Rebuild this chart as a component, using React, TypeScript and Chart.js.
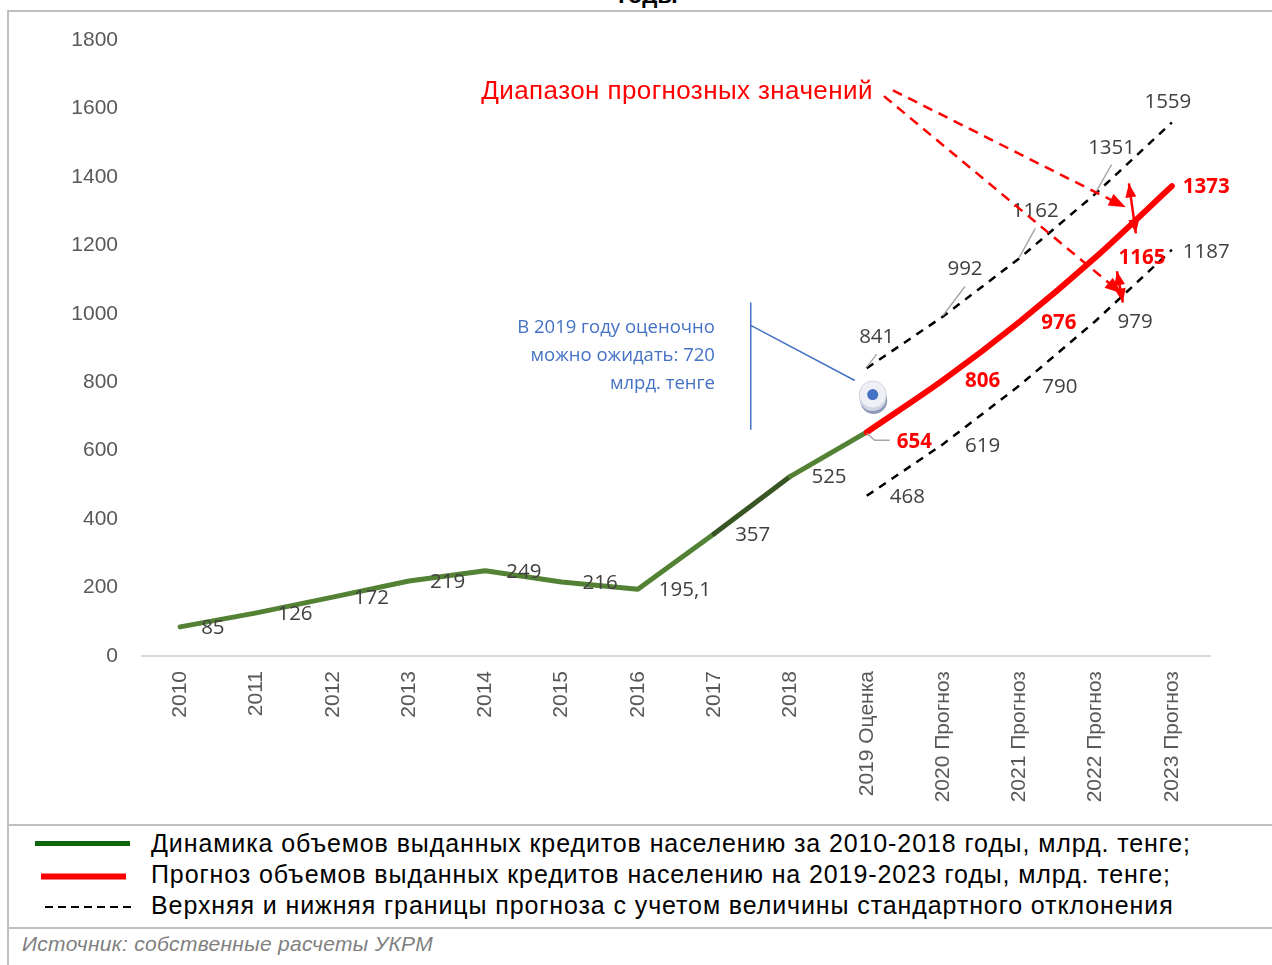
import React, { useEffect, useRef } from 'react';
import { Chart, registerables } from 'chart.js';

Chart.register(...registerables);

// ---------------- DATA ----------------
const CATEGORIES = [
  '2010', '2011', '2012', '2013', '2014', '2015', '2016', '2017', '2018',
  '2019 Оценка', '2020 Прогноз', '2021 Прогноз', '2022 Прогноз', '2023 Прогноз',
];
const ACTUAL = [85, 126, 172, 219, 249, 216, 195.1, 357, 525, 654, null, null, null, null];
const FORECAST = [null, null, null, null, null, null, null, null, null, 654, 806, 976, 1165, 1373];
const UPPER = [null, null, null, null, null, null, null, null, null, 841, 992, 1162, 1351, 1559];
const LOWER = [null, null, null, null, null, null, null, null, null, 468, 619, 790, 979, 1187];
// position of the 2019 estimate marker
const ESTIMATE = [null, null, null, null, null, null, null, null, null, 764, null, null, null, null];

const Y_MIN = 0;
const Y_MAX = 1800;
const Y_STEP = 200;

const LEGEND_ITEMS = [
  'Динамика объемов выданных кредитов населению за 2010-2018 годы, млрд. тенге;',
  'Прогноз объемов выданных кредитов населению на 2019-2023 годы, млрд. тенге;',
  'Верхняя и нижняя границы прогноза с учетом величины стандартного отклонения',
];
const SOURCE = 'Источник: собственные расчеты УКРМ';
const TITLE_TAIL = 'годы';
const CALLOUT_LINES = ['В 2019 году оценочно', 'можно ожидать: 720', 'млрд. тенге'];
const RANGE_TITLE = 'Диапазон прогнозных значений';

// ---------------- LABEL LAYOUT (styles / offsets, separate from data) ----------------
type Spec = { dx: number; dy: number; align: CanvasTextAlign; leader?: 'up' | 'elbow' } | null;
const R: Spec = { dx: 21, dy: 1, align: 'left' };
const ACTUAL_LABEL_LAYOUT: Spec[] = [R, R, R, R, R, R, R, R, R, null, null, null, null, null];
const FORECAST_LABEL_LAYOUT: Spec[] = [
  null, null, null, null, null, null, null, null, null,
  { dx: 30, dy: 10, align: 'left', leader: 'elbow' },
  { dx: 22, dy: 1, align: 'left' },
  { dx: 22, dy: 1, align: 'left' },
  { dx: 23, dy: 1, align: 'left' },
  { dx: 11, dy: 1, align: 'left' },
];
const UPPER_LABEL_LAYOUT: Spec[] = [
  null, null, null, null, null, null, null, null, null,
  { dx: 10, dy: -31, align: 'center', leader: 'up' },
  { dx: 22, dy: -47, align: 'center', leader: 'up' },
  { dx: 16, dy: -47, align: 'center', leader: 'up' },
  { dx: 16, dy: -46, align: 'center', leader: 'up' },
  { dx: -4, dy: -20, align: 'center' },
];
const LOWER_LABEL_LAYOUT: Spec[] = [
  null, null, null, null, null, null, null, null, null,
  { dx: 23, dy: 1, align: 'left' },
  { dx: 22, dy: 1.5, align: 'left' },
  { dx: 23, dy: 2, align: 'left' },
  { dx: 22, dy: 1.5, align: 'left' },
  { dx: 11, dy: 2, align: 'left' },
];

// annotation geometry in data units: [category index, value]
const ANNOT = {
  rangeTitle: { i: 9.08, v: 1648 },
  rangeArrows: [
    { from: [9.344, 1653], to: [12.396, 1311] },
    { from: [9.226, 1636], to: [12.343, 1059] },
  ],
  spanArrows: [
    { from: [12.437, 1381], to: [12.528, 1235] },
    { from: [12.28, 1124], to: [12.358, 1033] },
  ],
  calloutText: { i: 7.01, v: [960, 878, 796] },
  calloutBar: { i: 7.48, v0: 1033, v1: 661 },
  calloutConnector: { from: [7.48, 966], to: [8.844, 805] },
};

const AXIS_FONT = '"Liberation Sans", Arial, sans-serif';
const LABEL_FONT = '"Open Sans", sans-serif';
const GREY_TEXT = '#404040';
const RED = '#FF0000';
const BLUE = '#4472C4';

const fmt = (v: number | null) => (v == null ? null : String(v).replace('.', ','));

function arrowHead(ctx: CanvasRenderingContext2D, fx: number, fy: number, tx: number, ty: number, len: number, half: number) {
  const a = Math.atan2(ty - fy, tx - fx);
  ctx.beginPath();
  ctx.moveTo(tx, ty);
  ctx.lineTo(tx - len * Math.cos(a) + half * Math.sin(a), ty - len * Math.sin(a) - half * Math.cos(a));
  ctx.lineTo(tx - len * Math.cos(a) - half * Math.sin(a), ty - len * Math.sin(a) + half * Math.cos(a));
  ctx.closePath();
  ctx.fill();
}

const overlayPlugin = {
  id: 'overlay',
  afterDatasetsDraw(chart: any) {
    const ctx: CanvasRenderingContext2D = chart.ctx;
    const xs = chart.scales.x;
    const ys = chart.scales.y;
    const px = (i: number) => xs.getPixelForValue(i);
    const py = (v: number) => ys.getPixelForValue(v);

    // estimate marker
    const em = chart.getDatasetMeta(4);
    ESTIMATE.forEach((v, i) => {
      if (v == null) return;
      const p = em.data[i];
      const x = p.x + 6;
      const y = p.y;
      ctx.save();
      ctx.fillStyle = '#8E9AB8';
      ctx.beginPath(); ctx.arc(x + 1, y + 6, 13.5, 0, Math.PI * 2); ctx.fill();
      ctx.fillStyle = '#D0D6E4';
      ctx.beginPath(); ctx.arc(x, y + 3, 13.5, 0, Math.PI * 2); ctx.fill();
      ctx.fillStyle = '#EEF0F5';
      ctx.strokeStyle = '#D0D4DE';
      ctx.lineWidth = 1;
      ctx.beginPath(); ctx.arc(x, y, 13.5, 0, Math.PI * 2); ctx.fill(); ctx.stroke();
      ctx.fillStyle = BLUE;
      ctx.beginPath(); ctx.arc(x, y, 5.5, 0, Math.PI * 2); ctx.fill();
      ctx.restore();
    });

    const drawLabels = (dsIndex: number, values: (number | null)[], layout: Spec[], font: string, color: string) => {
      const meta = chart.getDatasetMeta(dsIndex);
      ctx.save();
      ctx.font = font;
      ctx.textBaseline = 'middle';
      values.forEach((v, i) => {
        const s = layout[i];
        const t = fmt(v);
        if (!s || t == null) return;
        const p = meta.data[i];
        const x = p.x + s.dx;
        const y = p.y + s.dy;
        ctx.strokeStyle = '#A6A6A6';
        ctx.lineWidth = 1.4;
        if (s.leader === 'up') {
          ctx.beginPath(); ctx.moveTo(p.x, p.y - 1); ctx.lineTo(x, y + 17); ctx.stroke();
        } else if (s.leader === 'elbow') {
          ctx.beginPath(); ctx.moveTo(p.x, p.y + 1); ctx.lineTo(p.x + 8, p.y + 8); ctx.lineTo(p.x + 23, p.y + 8); ctx.stroke();
        }
        ctx.fillStyle = color;
        ctx.textAlign = s.align;
        ctx.fillText(t, x, y);
      });
      ctx.restore();
    };

    drawLabels(1, ACTUAL, ACTUAL_LABEL_LAYOUT, `20.5px ${LABEL_FONT}`, GREY_TEXT);
    drawLabels(2, UPPER, UPPER_LABEL_LAYOUT, `20.5px ${LABEL_FONT}`, GREY_TEXT);
    drawLabels(3, LOWER, LOWER_LABEL_LAYOUT, `20.5px ${LABEL_FONT}`, GREY_TEXT);
    drawLabels(0, FORECAST, FORECAST_LABEL_LAYOUT, `bold 20.5px ${LABEL_FONT}`, RED);

    // callout
    ctx.save();
    ctx.strokeStyle = BLUE;
    ctx.lineWidth = 1.5;
    const bx = px(ANNOT.calloutBar.i);
    ctx.beginPath(); ctx.moveTo(bx, py(ANNOT.calloutBar.v0)); ctx.lineTo(bx, py(ANNOT.calloutBar.v1)); ctx.stroke();
    const cf = ANNOT.calloutConnector;
    ctx.beginPath(); ctx.moveTo(px(cf.from[0]), py(cf.from[1])); ctx.lineTo(px(cf.to[0]), py(cf.to[1])); ctx.stroke();
    ctx.fillStyle = BLUE;
    ctx.font = `18.5px ${LABEL_FONT}`;
    ctx.textAlign = 'right';
    ctx.textBaseline = 'middle';
    CALLOUT_LINES.forEach((line, k) => ctx.fillText(line, px(ANNOT.calloutText.i), py(ANNOT.calloutText.v[k])));
    ctx.restore();

    // range annotation
    ctx.save();
    ctx.fillStyle = RED;
    ctx.strokeStyle = RED;
    ctx.font = `26px ${AXIS_FONT}`;
    (ctx as any).letterSpacing = '0.4px';
    ctx.textAlign = 'right';
    ctx.textBaseline = 'middle';
    ctx.fillText(RANGE_TITLE, px(ANNOT.rangeTitle.i), py(ANNOT.rangeTitle.v));
    (ctx as any).letterSpacing = '0px';
    ctx.lineWidth = 2.5;
    ANNOT.rangeArrows.forEach((a) => {
      const fx = px(a.from[0]), fy = py(a.from[1]), tx = px(a.to[0]), ty = py(a.to[1]);
      const ang = Math.atan2(ty - fy, tx - fx);
      ctx.setLineDash([10, 7]);
      ctx.beginPath(); ctx.moveTo(fx, fy); ctx.lineTo(tx - 14 * Math.cos(ang), ty - 14 * Math.sin(ang)); ctx.stroke();
      ctx.setLineDash([]);
      arrowHead(ctx, fx, fy, tx, ty, 17, 6.5);
    });
    ctx.lineWidth = 2.5;
    ANNOT.spanArrows.forEach((a) => {
      const fx = px(a.from[0]), fy = py(a.from[1]), tx = px(a.to[0]), ty = py(a.to[1]);
      ctx.beginPath(); ctx.moveTo(fx, fy); ctx.lineTo(tx, ty); ctx.stroke();
      arrowHead(ctx, tx, ty, fx, fy, 14, 5.5);
      arrowHead(ctx, fx, fy, tx, ty, 14, 5.5);
    });
    ctx.restore();
  },
};

export default function App() {
  const ref = useRef<HTMLCanvasElement>(null);
  useEffect(() => {
    document.body.style.margin = '0';
    const chart = new Chart(ref.current as HTMLCanvasElement, {
      type: 'line',
      data: {
        labels: CATEGORIES,
        datasets: [
          {
            label: 'forecast',
            data: FORECAST,
            borderColor: RED,
            borderWidth: 6,
            tension: 0.3,
            pointRadius: 0,
            borderCapStyle: 'round',
            borderJoinStyle: 'round',
          },
          {
            label: 'actual',
            data: ACTUAL,
            borderColor: '#548235',
            borderWidth: 5,
            tension: 0,
            pointRadius: 0,
            borderCapStyle: 'round',
            borderJoinStyle: 'round',
            segment: {
              borderColor: (c: any) => (c.p0DataIndex === 7 ? '#375623' : undefined),
            },
          },
          {
            label: 'upper',
            data: UPPER,
            borderColor: '#000000',
            borderWidth: 2.5,
            borderDash: [8, 7],
            tension: 0,
            pointRadius: 0,
          },
          {
            label: 'lower',
            data: LOWER,
            borderColor: '#000000',
            borderWidth: 2.5,
            borderDash: [8, 7],
            tension: 0,
            pointRadius: 0,
          },
          {
            label: 'estimate',
            data: ESTIMATE,
            showLine: false,
            pointRadius: 0,
          },
        ],
      } as any,
      options: {
        responsive: false,
        animation: false,
        layout: { padding: { top: 28, right: 62, left: 0, bottom: 0 } },
        plugins: {
          legend: { display: false },
          tooltip: { enabled: false },
        },
        scales: {
          x: {
            type: 'category',
            offset: true,
            grid: { display: false, drawTicks: false },
            border: { display: true, color: '#D9D9D9', width: 2 },
            ticks: {
              minRotation: 90,
              maxRotation: 90,
              autoSkip: false,
              padding: 15,
              color: '#595959',
              font: { family: AXIS_FONT, size: 21 },
            },
            afterFit: (s: any) => { s.height = 168; s.paddingLeft = 0; s.paddingRight = 0; s.paddingTop = 0; s.paddingBottom = 0; },
          },
          y: {
            min: Y_MIN,
            max: Y_MAX,
            ticks: {
              stepSize: Y_STEP,
              padding: 24,
              color: '#595959',
              font: { family: AXIS_FONT, size: 21 },
              callback: (v: any) => String(v),
            },
            grid: { display: false, drawTicks: false },
            border: { display: false },
            afterFit: (s: any) => { s.width = 132; s.paddingTop = 0; s.paddingBottom = 0; s.paddingLeft = 0; s.paddingRight = 0; },
          },
        },
      } as any,
      plugins: [overlayPlugin],
    });
    return () => chart.destroy();
  }, []);

  const legendRowTop = [828, 859, 890];
  return (
    <div style={{ position: 'relative', width: 1272, height: 965, background: '#fff', overflow: 'hidden', fontFamily: AXIS_FONT }}>
      <div style={{ position: 'absolute', top: -17, left: 0, width: 1296, textAlign: 'center', fontWeight: 'bold', fontSize: 24, lineHeight: '24px', color: '#000' }}>{TITLE_TAIL}</div>
      <div style={{ position: 'absolute', top: 10, left: 7, right: 0, height: 2, background: '#BFBFBF' }} />
      <div style={{ position: 'absolute', top: 10, left: 7, bottom: 0, width: 2, background: '#BFBFBF' }} />
      <canvas ref={ref} width={1262} height={812} style={{ position: 'absolute', left: 10, top: 12 }} />
      <div style={{ position: 'absolute', top: 824, left: 7, right: 0, height: 2, background: '#BFBFBF' }} />
      <svg width={140} height={100} style={{ position: 'absolute', left: 0, top: 825 }}>
        <line x1={35} y1={18.5} x2={130} y2={18.5} stroke="#0B660B" strokeWidth={5} />
        <line x1={41} y1={51.5} x2={126} y2={51.5} stroke={RED} strokeWidth={6} />
        <line x1={45} y1={82} x2={135} y2={82} stroke="#000" strokeWidth={2} strokeDasharray="8,5" />
      </svg>
      {LEGEND_ITEMS.map((t, k) => (
        <div key={k} style={{ position: 'absolute', left: 151, top: legendRowTop[k], fontSize: 25, letterSpacing: '0.9px', lineHeight: '30px', color: '#000', whiteSpace: 'nowrap' }}>{t}</div>
      ))}
      <div style={{ position: 'absolute', top: 927, left: 7, right: 0, height: 2, background: '#BFBFBF' }} />
      <div style={{ position: 'absolute', left: 22, top: 930, fontSize: 21, letterSpacing: '0.3px', lineHeight: '28px', fontStyle: 'italic', color: '#7F7F7F', whiteSpace: 'nowrap' }}>{SOURCE}</div>
    </div>
  );
}
